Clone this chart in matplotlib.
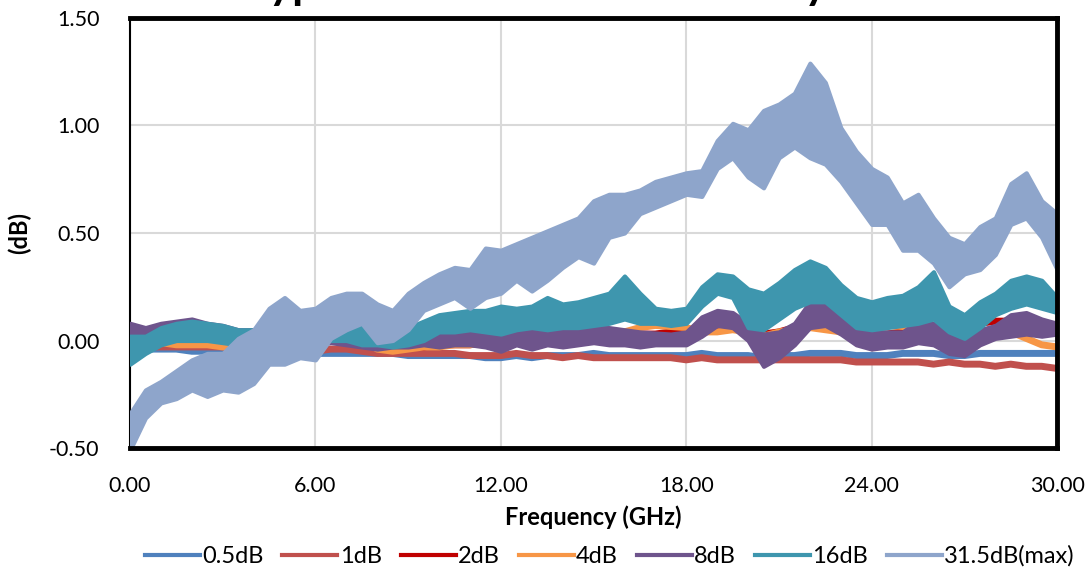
import numpy as np
import matplotlib
matplotlib.use("Agg")
import matplotlib.pyplot as plt
from matplotlib.lines import Line2D

plt.rcParams['font.family'] = ['Lato', 'DejaVu Sans']

# frequency grid (GHz), values read every 0.5 GHz
freq = np.arange(0, 30.01, 0.5)

db05 = [-0.03, -0.04, -0.04, -0.04, -0.05, -0.05, -0.04, -0.05, -0.05, -0.05,
        -0.05, -0.06, -0.06, -0.06, -0.06, -0.06, -0.06, -0.06, -0.07, -0.07,
        -0.07, -0.07, -0.07, -0.08, -0.08, -0.07, -0.08, -0.07, -0.07, -0.07,
        -0.06, -0.07, -0.07, -0.07, -0.07, -0.07, -0.07, -0.06, -0.07, -0.07,
        -0.07, -0.08, -0.07, -0.07, -0.06, -0.06, -0.06, -0.07, -0.07, -0.07,
        -0.06, -0.06, -0.06, -0.07, -0.07, -0.06, -0.06, -0.06, -0.06, -0.06, -0.06]

db1 = [-0.02, -0.03, -0.03, -0.03, -0.03, -0.03, -0.03, -0.04, -0.04, -0.04,
       -0.05, -0.05, -0.05, -0.04, -0.04, -0.05, -0.06, -0.06, -0.06, -0.06,
       -0.06, -0.06, -0.07, -0.07, -0.07, -0.06, -0.07, -0.07, -0.08, -0.07,
       -0.08, -0.08, -0.08, -0.08, -0.08, -0.08, -0.09, -0.08, -0.09, -0.09,
       -0.09, -0.09, -0.09, -0.09, -0.09, -0.09, -0.09, -0.10, -0.10, -0.10,
       -0.10, -0.10, -0.11, -0.10, -0.11, -0.11, -0.12, -0.11, -0.12, -0.12, -0.13]

db2 = [0.01, 0.00, 0.01, 0.00, 0.00, 0.00, -0.01, -0.02, -0.02, -0.02,
       -0.02, -0.02, -0.02, 0.01, 0.03, 0.01, -0.02, -0.03, -0.03, -0.03,
       -0.02, -0.02, -0.02, -0.01, -0.01, 0.00, 0.00, 0.00, 0.01, 0.01,
       0.01, 0.02, 0.02, 0.03, 0.03, 0.04, 0.04, 0.05, 0.06, 0.06,
       0.04, 0.03, 0.04, 0.06, 0.08, 0.08, 0.06, 0.04, 0.03, 0.03,
       0.04, 0.05, 0.04, 0.03, 0.05, 0.08, 0.09, 0.09, 0.08, 0.07, 0.06]

db4 = [-0.02, -0.02, -0.01, -0.02, -0.02, -0.02, -0.03, -0.03, -0.03, -0.03,
       -0.03, -0.03, -0.02, 0.00, 0.02, 0.00, -0.04, -0.05, -0.04, -0.03,
       -0.03, -0.02, -0.02, -0.01, -0.01, 0.00, 0.01, 0.01, 0.02, 0.04,
       0.03, 0.03, 0.04, 0.06, 0.07, 0.065, 0.06, 0.04, 0.04, 0.05,
       0.04, 0.02, 0.04, 0.05, 0.06, 0.05, 0.04, 0.05, 0.06, 0.07,
       0.065, 0.06, 0.05, 0.03, 0.03, 0.04, 0.04, 0.04, 0.01, -0.02, -0.03]

# noisy traces: lower / upper edge of the band
db8_lo = [-0.02, 0.00, 0.02, 0.03, 0.03, 0.02, 0.01, 0.00, 0.00, -0.01,
          -0.01, -0.02, -0.02, -0.01, -0.02, -0.03, -0.04, -0.03, -0.03, -0.02,
          -0.03, -0.02, -0.02, -0.03, -0.05, -0.02, -0.04, -0.02, -0.03, -0.02,
          -0.01, -0.02, -0.02, -0.03, -0.02, -0.02, -0.02, 0.02, 0.07, 0.06,
          0.00, -0.12, -0.08, -0.02, 0.06, 0.07, 0.03, -0.02, -0.04, -0.03,
          -0.03, -0.01, -0.02, -0.06, -0.07, -0.02, 0.01, 0.02, 0.03, 0.02, 0.03]
db8_hi = [0.08, 0.06, 0.08, 0.09, 0.10, 0.08, 0.07, 0.05, 0.05, 0.04,
          0.04, 0.03, 0.03, 0.03, 0.03, 0.01, 0.00, 0.01, 0.02, 0.03,
          0.03, 0.03, 0.04, 0.04, 0.04, 0.05, 0.05, 0.04, 0.05, 0.07,
          0.06, 0.06, 0.05, 0.04, 0.035, 0.03, 0.04, 0.11, 0.14, 0.13,
          0.08, 0.03, 0.04, 0.08, 0.18, 0.18, 0.13, 0.05, 0.04, 0.04,
          0.04, 0.09, 0.08, 0.03, 0.03, 0.05, 0.07, 0.12, 0.13, 0.10, 0.08]

db16_lo = [-0.11, -0.06, -0.02, 0.00, 0.00, 0.00, -0.01, -0.02, -0.03, -0.02,
           -0.02, 0.00, 0.01, 0.00, 0.00, -0.02, -0.02, -0.03, -0.02, 0.00,
           0.04, 0.04, 0.05, 0.04, 0.03, 0.05, 0.06, 0.05, 0.06, 0.06,
           0.07, 0.08, 0.10, 0.08, 0.08, 0.07, 0.08, 0.16, 0.22, 0.20,
           0.06, 0.05, 0.10, 0.15, 0.18, 0.18, 0.12, 0.06, 0.05, 0.06,
           0.07, 0.08, 0.10, 0.04, 0.01, 0.06, 0.12, 0.15, 0.17, 0.15, 0.13]
db16_hi = [0.02, 0.02, 0.06, 0.08, 0.09, 0.08, 0.07, 0.05, 0.05, 0.06,
           0.07, 0.10, 0.09, 0.09, 0.08, 0.08, 0.07, 0.06, 0.06, 0.09,
           0.12, 0.13, 0.14, 0.14, 0.16, 0.15, 0.16, 0.20, 0.17, 0.18,
           0.20, 0.22, 0.30, 0.22, 0.15, 0.14, 0.15, 0.25, 0.31, 0.30,
           0.24, 0.22, 0.27, 0.33, 0.37, 0.34, 0.26, 0.20, 0.18, 0.20,
           0.21, 0.25, 0.32, 0.16, 0.12, 0.18, 0.22, 0.28, 0.30, 0.28, 0.20]

db315_lo = [-0.51, -0.36, -0.29, -0.27, -0.23, -0.26, -0.23, -0.24, -0.20, -0.11,
            -0.11, -0.08, -0.09, 0.01, 0.05, 0.08, -0.01, 0.00, 0.05, 0.14,
            0.17, 0.20, 0.15, 0.20, 0.22, 0.28, 0.23, 0.28, 0.34, 0.39,
            0.36, 0.48, 0.50, 0.59, 0.62, 0.65, 0.68, 0.67, 0.80, 0.85,
            0.76, 0.71, 0.85, 0.90, 0.85, 0.82, 0.74, 0.64, 0.54, 0.54,
            0.42, 0.42, 0.36, 0.25, 0.31, 0.33, 0.40, 0.54, 0.57, 0.48, 0.33]
db315_hi = [-0.34, -0.23, -0.19, -0.14, -0.09, -0.06, -0.06, 0.01, 0.05, 0.15,
            0.20, 0.14, 0.15, 0.20, 0.22, 0.22, 0.17, 0.14, 0.22, 0.27,
            0.31, 0.34, 0.33, 0.43, 0.42, 0.45, 0.48, 0.51, 0.54, 0.57,
            0.65, 0.68, 0.68, 0.70, 0.74, 0.76, 0.78, 0.79, 0.93, 1.01,
            0.98, 1.07, 1.10, 1.15, 1.29, 1.20, 0.99, 0.88, 0.80, 0.76,
            0.64, 0.68, 0.57, 0.48, 0.45, 0.53, 0.57, 0.73, 0.78, 0.65, 0.59]

labels = ['0.5dB', '1dB', '2dB', '4dB', '8dB', '16dB', '31.5dB(max)']
colors = ['#4F81BD', '#C0504D', '#C00000', '#F79646', '#6E548C', '#3E96AE', '#8EA5CB']

fig = plt.figure(figsize=(10.85, 5.71), dpi=100)
ax = fig.add_axes([0.1198, 0.2154, 0.8545, 0.7531])

# thin traces
z = 2
for vals, c in zip([db05, db1, db2, db4], colors[:4]):
    ax.plot(freq, vals, color=c, lw=5, solid_capstyle='round',
            solid_joinstyle='round', zorder=z)
    z += 1

# wide noisy traces drawn as bands
for lo, hi, c in zip([db8_lo, db16_lo, db315_lo], [db8_hi, db16_hi, db315_hi], colors[4:]):
    ax.fill_between(freq, lo, hi, color=c, lw=3, edgecolor=c,
                    joinstyle='round', zorder=z)
    z += 1

ax.set_xlim(0, 30)
ax.set_ylim(-0.5, 1.5)
ax.set_xticks(np.arange(0, 31, 6))
ax.set_yticks(np.arange(-0.5, 1.51, 0.5))
ax.xaxis.set_major_formatter(matplotlib.ticker.FormatStrFormatter('%.2f'))
ax.yaxis.set_major_formatter(matplotlib.ticker.FormatStrFormatter('%.2f'))
ax.tick_params(length=0, labelsize=15.5)
ax.tick_params(axis='y', pad=22)
ax.tick_params(axis='x', pad=20)
ax.grid(True, color='#D9D9D9', lw=1.5)
ax.set_axisbelow(True)

for side in ['top', 'right', 'bottom']:
    ax.spines[side].set_linewidth(3.5)
    ax.spines[side].set_zorder(20)
ax.spines['left'].set_linewidth(1.5)

ax.set_xlabel('Frequency (GHz)', fontsize=17, fontweight='bold', labelpad=7)
ax.set_ylabel('(dB)', fontsize=17, fontweight='bold', labelpad=13)

fig.text(0.493, 1.002, 'Typical Attenuation Accuracy', fontsize=32,
         fontweight='bold', ha='center', va='baseline')

handles = [Line2D([0], [0], color=c, lw=3) for c in colors]
fig.legend(handles, labels, loc='center', bbox_to_anchor=(0.562, 0.026), ncol=7,
           frameon=False, fontsize=17, handlelength=2.33, handletextpad=0.1,
           columnspacing=0.8)

fig.savefig('out.png', dpi=100)
